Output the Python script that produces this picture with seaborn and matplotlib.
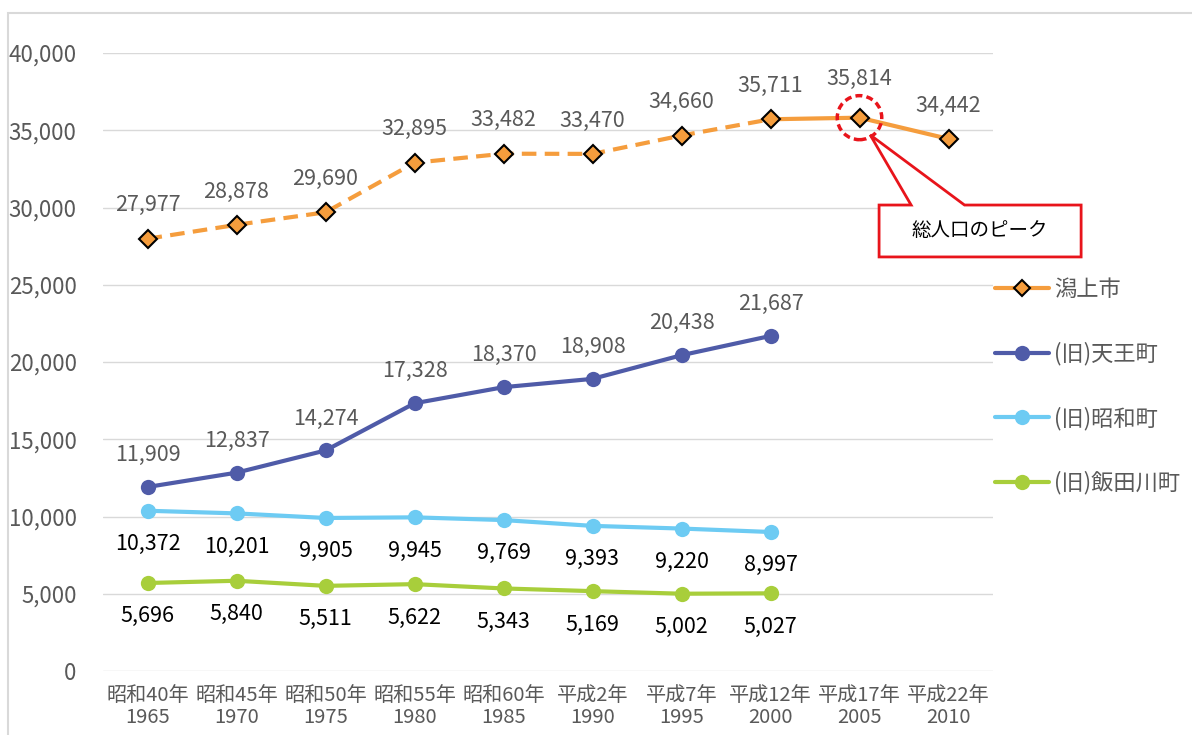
import matplotlib
matplotlib.use("Agg")
import matplotlib.pyplot as plt
from matplotlib.lines import Line2D
from matplotlib.patches import Ellipse, Polygon, Rectangle
import numpy as np
import pandas as pd
import seaborn as sns

# data
x_labels = ["昭和40年\n1965", "昭和45年\n1970", "昭和50年\n1975", "昭和55年\n1980", "昭和60年\n1985",
            "平成2年\n1990", "平成7年\n1995", "平成12年\n2000", "平成17年\n2005", "平成22年\n2010"]
katagami = [27977, 28878, 29690, 32895, 33482, 33470, 34660, 35711, 35814, 34442]
tenno = [11909, 12837, 14274, 17328, 18370, 18908, 20438, 21687]
showa = [10372, 10201, 9905, 9945, 9769, 9393, 9220, 8997]
iidagawa = [5696, 5840, 5511, 5622, 5343, 5169, 5002, 5027]

names = ["潟上市", "(旧)天王町", "(旧)昭和町", "(旧)飯田川町"]
colors = ["#F59D3D", "#4F5BA8", "#6DCBF3", "#A8CE3B"]

sns.set_style("white")
plt.rcParams["font.family"] = ["Noto Sans CJK JP", "DejaVu Sans"]

fig = plt.figure(figsize=(11.92, 7.35), dpi=100)
ax = fig.add_axes([103 / 1192, 64 / 735, 890 / 1192, 618 / 735])

fig.patches.append(Rectangle((8 / 1192, -0.01), 1.0, 722 / 735 + 0.01, transform=fig.transFigure,
                             facecolor="none", edgecolor="#D9D9D9", lw=1.5, zorder=0))

df_k = pd.DataFrame({"x": range(len(katagami)), "y": katagami})
sns.lineplot(data=df_k.iloc[:8], x="x", y="y", ax=ax, color=colors[0], lw=3, linestyle=(0, (3.5, 2)), zorder=3)
sns.lineplot(data=df_k.iloc[7:], x="x", y="y", ax=ax, color=colors[0], lw=3, zorder=3)
ax.plot(df_k["x"], df_k["y"], linestyle="none", marker="D", markersize=9.5,
        markerfacecolor=colors[0], markeredgecolor="black", markeredgewidth=1.5, zorder=5)

others = [tenno, showa, iidagawa]
for vals, c in zip(others, colors[1:]):
    d = pd.DataFrame({"x": range(len(vals)), "y": vals})
    sns.lineplot(data=d, x="x", y="y", ax=ax, color=c, lw=3, marker="o", markersize=11,
                 markeredgewidth=0, zorder=4)

# data labels
for i, v in enumerate(katagami):
    off = 28 if i == 8 else 24
    ax.annotate(f"{v:,}", (i, v), xytext=(0, off), textcoords="offset points",
                ha="center", va="center", fontsize=15.5, color="#595959")
for i, v in enumerate(tenno):
    ax.annotate(f"{v:,}", (i, v), xytext=(0, 23), textcoords="offset points",
                ha="center", va="center", fontsize=15.5, color="#595959")
for vals in (showa, iidagawa):
    for i, v in enumerate(vals):
        ax.annotate(f"{v:,}", (i, v), xytext=(0, -24), textcoords="offset points",
                    ha="center", va="center", fontsize=15.5, color="black")

# peak callout
ax.add_patch(Ellipse((8, katagami[8]), 0.5, 2850, facecolor="none", edgecolor="#E8141B",
                     lw=2.5, linestyle=(0, (2, 1.2)), zorder=6))
callout = Polygon([(8.22, 26800), (8.22, 30160), (8.58, 30160), (8.12, 34700), (9.18, 30160),
                   (10.49, 30160), (10.49, 26800)], closed=True, facecolor="white",
                  edgecolor="#E8141B", lw=2, clip_on=False, zorder=6)
ax.add_patch(callout)
ax.text(9.35, 28480, "総人口のピーク", ha="center", va="center", fontsize=14, color="black", zorder=7,
        clip_on=False)

ax.set_xlim(-0.5, 9.5)
ax.set_ylim(0, 40000)
ax.set_yticks(np.arange(0, 40001, 5000))
ax.set_yticklabels([f"{t:,}" for t in range(0, 40001, 5000)])
ax.set_xticks(range(len(x_labels)))
ax.set_xticklabels(x_labels, linespacing=1.1)
ax.tick_params(axis="both", colors="#595959", length=0)
ax.tick_params(axis="y", pad=19, labelsize=16)
ax.tick_params(axis="x", pad=10, labelsize=14.5)
ax.set_xlabel("")
ax.set_ylabel("")
ax.grid(axis="y", color="#D9D9D9", lw=1)
ax.set_axisbelow(True)
for s in ax.spines.values():
    s.set_visible(False)

handles = [Line2D([], [], color=colors[0], lw=3, marker="D", markersize=8, markerfacecolor=colors[0],
                  markeredgecolor="black", markeredgewidth=1.5)]
handles += [Line2D([], [], color=c, lw=3, marker="o", markersize=11, markeredgewidth=0) for c in colors[1:]]
fig.legend(handles, names, loc="upper left", bbox_to_anchor=(995 / 1192, 1 - 278 / 735), frameon=False,
           fontsize=16, labelcolor="#595959", handlelength=2.45, handletextpad=0.2, labelspacing=1.84,
           borderpad=0, borderaxespad=0)

fig.savefig("out.png", dpi=100)
